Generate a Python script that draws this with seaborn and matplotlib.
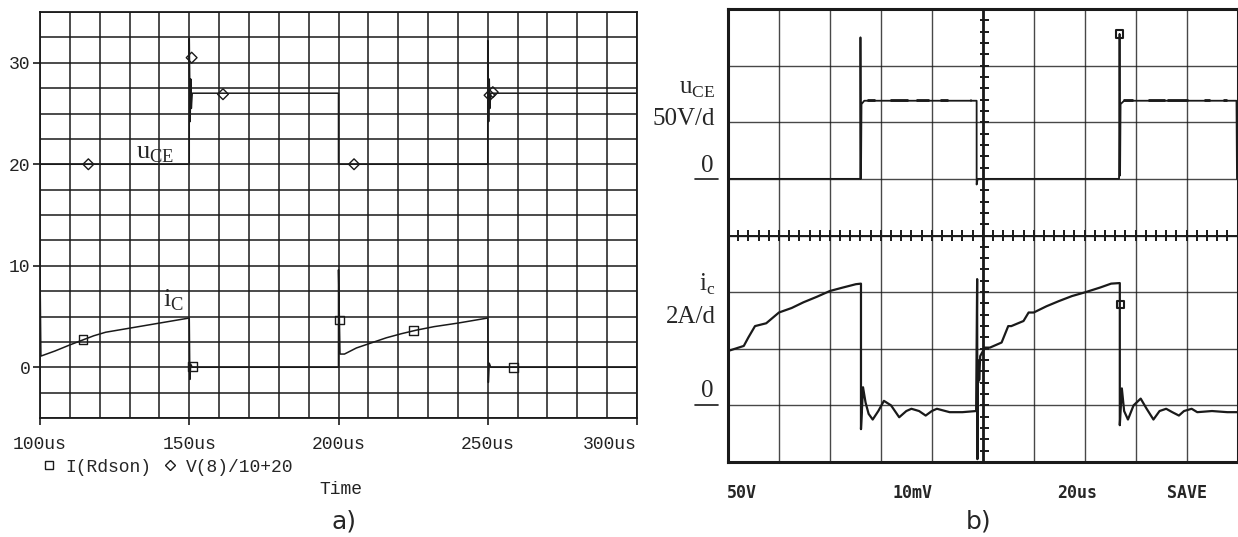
"""
IGBT switching: a) PSpice simulation, b) oscilloscope measurement
"""

import numpy as np
import matplotlib.pyplot as plt
import seaborn as sns
from matplotlib.lines import Line2D
import matplotlib.transforms as mtransforms

sns.set_theme(style='white')
plt.rcParams['font.family'] = ['Liberation Mono', 'DejaVu Sans Mono']
plt.rcParams['mathtext.fontset'] = 'custom'
plt.rcParams['mathtext.rm'] = 'Liberation Serif'

# ============================================================================
# Data a) simulation (time in us)
# ============================================================================
sim_uce_t = [100, 100, 150, 150, 150.3, 150.5, 150.7, 151, 200, 200,
             250, 250, 250.3, 250.5, 250.7, 251, 300]
sim_uce_v = [27, 20, 20, 32.4, 24.2, 28.4, 25.5, 27, 27, 20,
             20, 32.2, 24.2, 28.4, 25.5, 27, 27]

sim_ic_t = [100, 100.3, 105, 110, 114, 118, 122, 130, 140, 150,
            150.2, 150.5, 151, 200, 200, 200.5, 202, 206, 211, 216,
            221, 226, 232, 240, 250, 250.2, 250.5, 251, 300]
sim_ic_v = [9.6, 1.1, 1.6, 2.2, 2.65, 3.1, 3.45, 3.85, 4.35, 4.85,
            -1.2, 0.3, 0, 0, 9.6, 1.3, 1.3, 1.9, 2.4, 2.9,
            3.3, 3.65, 4.0, 4.35, 4.85, -1.5, 0.4, 0, 0]

ic_mark_t = [114.4, 151.2, 200.3, 225.2, 258.7]
ic_mark_v = [2.7, 0.1, 4.65, 3.6, 0]
uce_mark_t = [116.2, 150.8, 161.3, 205.2, 250.6, 251.7]
uce_mark_v = [20, 30.5, 26.9, 20, 26.8, 27.1]

sim_xticks = [100, 150, 200, 250, 300]
sim_xlabels = ['100us', '150us', '200us', '250us', '300us']
sim_yticks = [0, 10, 20, 30]

# ============================================================================
# Data b) oscilloscope (time in us, uCE in V, iC in A)
# ============================================================================
us_per_div, v_per_div, a_per_div = 20, 50, 2
uce_zero_div, ic_zero_div = 5, 1

scope_uce_t = [0, 51.9, 52.0, 52.2, 52.4, 53.5, 97.6, 97.6, 98.0,
               153.5, 153.7, 153.9, 154.1, 155.5, 199.6, 199.8]
scope_uce_v = [0, 0, 125, 0, 66, 69, 69, -5, 0,
               0, 128, 3, 66, 69, 69, 0]
# noisy dashes on top of the pulse
uce_dash_start = [54.7, 63.6, 73.8, 83.4, 94.8, 155, 165, 172.4, 187, 194.4]
uce_dash_end = [57.6, 70.8, 78.8, 86.2, 95.4, 159, 171.6, 180.4, 189.2, 195.8]
uce_dash_v = 70.0

scope_ic_t = [0, 6.2, 8, 10.6, 15, 20, 25, 29.6, 35, 40,
              45, 50.2, 52.2, 52.2, 53.0, 54.0, 55.2, 56.8, 59, 61.2,
              64, 67.2, 70, 72, 75, 77.6, 80, 82, 87, 92,
              97.4, 97.8, 97.9, 98.0, 98.2, 98.4, 98.6, 99.0, 100.8, 102.8,
              107.4, 110, 111.2, 116, 118, 120, 125, 129.8, 135, 140.4,
              146, 150.4, 153.8, 153.8, 154.6, 155.5, 157, 159.2, 162, 164.2,
              167, 169.4, 172, 174.4, 177, 179, 182, 184.2, 190, 196, 200]
scope_ic_a = [1.92, 2.1, 2.4, 2.8, 2.9, 3.28, 3.44, 3.64, 3.84, 4.04,
              4.16, 4.28, 4.3, -0.84, 0.64, 0.1, -0.3, -0.5, -0.2, 0.16,
              0.0, -0.42, -0.2, -0.12, -0.2, -0.36, -0.2, -0.12, -0.24, -0.24,
              -0.2, 4.46, -1.9, 1.6, 0.8, 1.5, 0.9, 1.74, 2.04, 2.04,
              2.22, 2.8, 2.8, 2.98, 3.28, 3.28, 3.5, 3.68, 3.86, 4.0,
              4.16, 4.3, 4.32, -0.7, 0.6, -0.2, -0.5, 0.0, 0.24, -0.1,
              -0.5, -0.2, -0.12, -0.24, -0.36, -0.2, -0.12, -0.24, -0.2, -0.24, -0.24]

scope_mark_t = [153.7, 154.0]
scope_mark_div = [uce_zero_div + 128 / v_per_div, ic_zero_div + 3.56 / a_per_div]

# ============================================================================
# Figure
# ============================================================================
W, H = 1238, 537
fig = plt.figure(figsize=(W / 100, H / 100), dpi=100)
ax1 = fig.add_axes([40 / W, 1 - 418 / H, 597 / W, 406 / H])
ax2 = fig.add_axes([728 / W, 1 - 462 / H, 509.5 / W, 453 / H])

# ---------------- a) ----------------
sns.lineplot(x=sim_uce_t, y=sim_uce_v, sort=False, estimator=None,
             color='k', lw=1.1, ax=ax1)
sns.lineplot(x=sim_ic_t, y=sim_ic_v, sort=False, estimator=None,
             color='k', lw=1.1, ax=ax1)
sns.scatterplot(x=ic_mark_t, y=ic_mark_v, marker='s', s=40,
                facecolor='none', edgecolor='k', linewidth=1.0, ax=ax1, zorder=5)
sns.scatterplot(x=uce_mark_t, y=uce_mark_v, marker='D', s=30,
                facecolor='none', edgecolor='k', linewidth=1.0, ax=ax1, zorder=5)

ax1.set_xlim(100, 300)
ax1.set_ylim(-5, 35)
ax1.set_xticks(sim_xticks)
ax1.set_xticklabels(sim_xlabels, fontsize=13)
ax1.get_xticklabels()[-1].set_horizontalalignment('right')
ax1.set_yticks(sim_yticks)
ax1.set_yticklabels([str(v) for v in sim_yticks], fontsize=13)
ax1.set_xticks(np.arange(100, 301, 10), minor=True)
ax1.set_yticks(np.arange(-5, 35.1, 2.5), minor=True)
ax1.tick_params(which='major', length=5, width=1.2, color='k', bottom=True, left=True,
                pad=8, labelcolor='#222222')
ax1.tick_params(axis='y', pad=2)
ax1.tick_params(which='minor', length=0)
ax1.grid(which='both', color='k', lw=1.1)
ax1.set_axisbelow(True)
for sp in ax1.spines.values():
    sp.set_color('k')
    sp.set_linewidth(1.3)

ax1.text(132, 20.6, r'u$_\mathregular{CE}$', fontsize=19,
         family='Liberation Serif', va='baseline')
ax1.text(141.2, 5.95, r'i$_\mathregular{C}$', fontsize=19,
         family='Liberation Serif', va='baseline')

handles = [Line2D([], [], ls='none', marker='s', ms=6, mfc='none', mec='k', mew=1.0),
           Line2D([], [], ls='none', marker='D', ms=5.5, mfc='none', mec='k', mew=1.0)]
fig.legend(handles, ['I(Rdson)', 'V(8)/10+20'], loc='center left',
           bbox_to_anchor=(26 / W, 1 - 467 / H), ncol=2, frameon=False,
           fontsize=13, handlelength=0.8, handletextpad=0.5, columnspacing=0.6)
fig.text(341 / W, 1 - 490 / H, 'Time', fontsize=13, ha='center', va='center', color='#222222')
fig.text(344 / W, 1 - 521 / H, 'a)', fontsize=18, ha='center', va='center',
         family='DejaVu Sans')

# ---------------- b) ----------------
uce_div = [uce_zero_div + v / v_per_div for v in scope_uce_v]
ic_div = [ic_zero_div + a / a_per_div for a in scope_ic_a]

sns.lineplot(x=scope_uce_t, y=uce_div, sort=False, estimator=None,
             color='k', lw=1.3, ax=ax2)
ax2.hlines([uce_zero_div + uce_dash_v / v_per_div] * len(uce_dash_start),
           uce_dash_start, uce_dash_end, color='k', lw=2.0)
sns.lineplot(x=scope_ic_t, y=ic_div, sort=False, estimator=None,
             color='k', lw=1.6, ax=ax2)
sns.scatterplot(x=scope_mark_t, y=scope_mark_div, marker='s', s=30,
                facecolor='none', edgecolor='k', linewidth=1.5, ax=ax2, zorder=5)

ax2.set_xlim(0, 10 * us_per_div)
ax2.set_ylim(0, 8)
ax2.set_xticks(np.arange(0, 201, us_per_div))
ax2.set_yticks(np.arange(0, 9, 1))
ax2.tick_params(length=0, labelbottom=False, labelleft=False)
ax2.grid(color='k', lw=1.0, alpha=0.8)
ax2.set_axisbelow(True)
for sp in ax2.spines.values():
    sp.set_color('k')
    sp.set_linewidth(2.2)

# centre cross with graduation marks
ax2.axhline(4, color='k', lw=1.4)
ax2.axvline(100, color='k', lw=2.0)
ax2.vlines(np.arange(4, 200, 4), 4 - 0.1, 4 + 0.1, color='k', lw=1.4)
ax2.hlines(np.arange(0.2, 8, 0.2), 100 - 1.2, 100 + 2.6, color='k', lw=1.4)

trans = mtransforms.blended_transform_factory(fig.transFigure, ax2.transData)
lab = dict(transform=fig.transFigure, family='Liberation Serif', fontsize=18,
           ha='right', va='center')
fig.text(715 / W, 1 - 89 / H, r'u$_\mathregular{CE}$', **lab)
fig.text(715 / W, 1 - 119 / H, '50V/d', **lab)
fig.text(713 / W, 1 - 166 / H, '0', **lab)
fig.text(715 / W, 1 - 284 / H, r'i$_\mathregular{c}$', **lab)
fig.text(716 / W, 1 - 317 / H, '2A/d', **lab)
fig.text(714 / W, 1 - 391 / H, '0', **lab)
for zero in [uce_zero_div, ic_zero_div]:
    ax2.plot([695 / W, 718 / W], [zero, zero], color='k', lw=1.2,
             transform=trans, clip_on=False)

scope_labels = ['50V', '10mV', '20us', 'SAVE']
scope_label_x = [727, 893, 1057, 1167]
for txt, xp in zip(scope_labels, scope_label_x):
    fig.text(xp / W, 1 - 493 / H, txt, fontsize=12, fontweight='bold',
             family='DejaVu Sans Mono', ha='left', va='center')
fig.text(979 / W, 1 - 521 / H, 'b)', fontsize=18, ha='center', va='center',
         family='DejaVu Sans')

plt.savefig('out.png', dpi=100)
plt.close()
